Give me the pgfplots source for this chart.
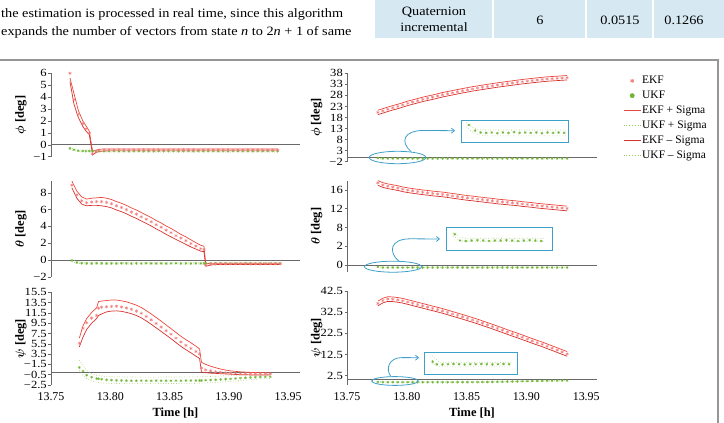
\documentclass[border=0pt]{standalone}
\usepackage{pgfplots}
\pgfplotsset{compat=1.18}
\usepackage{pgfplotstable}
\usepackage{fontspec}
\usepackage{bm}
\setmainfont{Liberation Serif}
\newfontfamily\widefont[FakeStretch=1.12]{Liberation Serif}
\newfontfamily\tickfont[FakeStretch=1.15]{Liberation Serif}
\usetikzlibrary{arrows.meta}

\definecolor{ekfpink}{RGB}{242,125,125}
\definecolor{ekfred}{RGB}{234,70,60}
\definecolor{ekfdark}{RGB}{214,48,42}
\definecolor{ukfgreen}{RGB}{112,182,52}
\definecolor{ukfline}{RGB}{150,200,90}
\definecolor{annblue}{RGB}{62,160,200}
\definecolor{axisgray}{RGB}{105,105,105}
\definecolor{cellblue}{RGB}{214,233,243}
\definecolor{framegray}{RGB}{150,150,150}

\newcommand\xtfont{\fontsize{12}{13}\selectfont}
\newcommand\ytfont{\tickfont\fontsize{11}{12}\selectfont}
\newcommand\labfont{\fontsize{12.5}{14}\selectfont\bfseries}
\newcommand\legfont{\fontsize{11.5}{13}\selectfont}
\newcommand\bodyfont{\widefont\fontsize{12.8}{15}\selectfont}

% phi, left column
\pgfplotstableread{
t ekf ep em ukf up um
13.7660 6.00 5.60 5.30 -0.30 -0.22 -0.38
13.7694 3.80 4.30 3.40 -0.42 -0.34 -0.50
13.7730 2.55 2.90 2.30 -0.50 -0.42 -0.58
13.7768 1.78 2.00 1.55 -0.52 -0.44 -0.60
13.7795 1.35 1.60 1.15 -0.53 -0.45 -0.61
13.7823 0.98 1.15 0.85 -0.52 -0.45 -0.61
13.7851 -0.76 -0.55 -0.85 -0.53 -0.45 -0.61
13.7880 -0.55 -0.45 -0.64 -0.54 -0.45 -0.61
13.7906 -0.47 -0.38 -0.56 -0.53 -0.45 -0.61
13.7948 -0.43 -0.35 -0.52 -0.54 -0.45 -0.61
13.7990 -0.42 -0.35 -0.51 -0.53 -0.45 -0.61
13.8031 -0.43 -0.35 -0.51 -0.52 -0.45 -0.61
13.8073 -0.41 -0.35 -0.51 -0.54 -0.45 -0.61
13.8115 -0.42 -0.35 -0.51 -0.53 -0.45 -0.61
13.8157 -0.44 -0.35 -0.51 -0.55 -0.45 -0.61
13.8199 -0.42 -0.35 -0.51 -0.53 -0.45 -0.61
13.8241 -0.43 -0.35 -0.51 -0.52 -0.45 -0.61
13.8282 -0.41 -0.35 -0.51 -0.54 -0.45 -0.61
13.8324 -0.42 -0.35 -0.51 -0.53 -0.45 -0.61
13.8366 -0.43 -0.35 -0.51 -0.54 -0.45 -0.61
13.8408 -0.42 -0.35 -0.51 -0.52 -0.45 -0.61
13.8450 -0.44 -0.35 -0.51 -0.53 -0.45 -0.61
13.8491 -0.42 -0.35 -0.51 -0.55 -0.45 -0.61
13.8533 -0.41 -0.35 -0.51 -0.53 -0.45 -0.61
13.8575 -0.43 -0.35 -0.51 -0.54 -0.45 -0.61
13.8617 -0.42 -0.35 -0.51 -0.53 -0.45 -0.61
13.8659 -0.43 -0.35 -0.51 -0.52 -0.45 -0.61
13.8701 -0.42 -0.35 -0.51 -0.54 -0.45 -0.61
13.8742 -0.44 -0.35 -0.51 -0.53 -0.45 -0.61
13.8784 -0.42 -0.35 -0.51 -0.54 -0.45 -0.61
13.8826 -0.41 -0.35 -0.51 -0.53 -0.45 -0.61
13.8868 -0.43 -0.35 -0.51 -0.52 -0.45 -0.61
13.8910 -0.42 -0.35 -0.51 -0.54 -0.45 -0.61
13.8952 -0.43 -0.35 -0.51 -0.53 -0.45 -0.61
13.8993 -0.42 -0.35 -0.51 -0.55 -0.45 -0.61
13.9035 -0.44 -0.35 -0.51 -0.53 -0.45 -0.61
13.9077 -0.42 -0.35 -0.51 -0.54 -0.45 -0.61
13.9119 -0.43 -0.35 -0.51 -0.53 -0.45 -0.61
13.9161 -0.41 -0.35 -0.51 -0.52 -0.45 -0.61
13.9202 -0.42 -0.35 -0.51 -0.54 -0.45 -0.61
13.9244 -0.43 -0.35 -0.51 -0.53 -0.45 -0.61
13.9286 -0.42 -0.35 -0.51 -0.54 -0.45 -0.61
13.9328 -0.44 -0.35 -0.51 -0.53 -0.45 -0.61
13.9370 -0.42 -0.35 -0.51 -0.52 -0.45 -0.61
13.9412 -0.43 -0.35 -0.51 -0.54 -0.45 -0.61
}\phiL

% theta, left column
\pgfplotstableread{
t ekf ep em ukf up um
13.7676 8.90 9.40 8.60 -0.05 0.05 -0.15
13.7718 7.75 8.20 7.35 -0.30 -0.20 -0.40
13.7759 7.05 7.50 6.65 -0.38 -0.30 -0.47
13.7801 6.82 7.25 6.45 -0.40 -0.32 -0.48
13.7843 6.90 7.35 6.50 -0.41 -0.33 -0.48
13.7885 6.95 7.40 6.50 -0.39 -0.33 -0.48
13.7927 6.95 7.45 6.45 -0.40 -0.33 -0.48
13.7969 6.85 7.35 6.35 -0.42 -0.33 -0.48
13.8010 6.70 7.20 6.20 -0.40 -0.33 -0.48
13.8052 6.45 6.95 5.95 -0.41 -0.33 -0.48
13.8094 6.25 6.75 5.75 -0.39 -0.33 -0.48
13.8136 6.00 6.50 5.50 -0.40 -0.33 -0.48
13.8178 5.70 6.20 5.20 -0.42 -0.33 -0.48
13.8220 5.45 5.95 4.95 -0.40 -0.33 -0.48
13.8261 5.15 5.65 4.65 -0.41 -0.33 -0.48
13.8303 4.85 5.35 4.35 -0.39 -0.33 -0.48
13.8345 4.55 5.05 4.05 -0.40 -0.33 -0.48
13.8387 4.20 4.70 3.70 -0.41 -0.33 -0.48
13.8429 3.90 4.40 3.40 -0.40 -0.33 -0.48
13.8471 3.55 4.05 3.05 -0.42 -0.33 -0.48
13.8512 3.25 3.75 2.75 -0.40 -0.33 -0.48
13.8554 2.90 3.40 2.45 -0.39 -0.33 -0.48
13.8596 2.60 3.05 2.15 -0.41 -0.33 -0.48
13.8638 2.30 2.75 1.85 -0.40 -0.33 -0.48
13.8680 1.95 2.40 1.55 -0.42 -0.33 -0.48
13.8722 1.65 2.05 1.30 -0.40 -0.33 -0.48
13.8763 1.35 1.75 1.05 -0.41 -0.33 -0.48
13.8790 1.25 1.65 1.00 -0.40 -0.33 -0.48
13.8805 -0.60 -0.45 -0.75 -0.40 -0.33 -0.48
13.8847 -0.50 -0.40 -0.60 -0.41 -0.33 -0.48
13.8889 -0.46 -0.38 -0.54 -0.39 -0.33 -0.48
13.8931 -0.44 -0.38 -0.54 -0.41 -0.33 -0.48
13.8973 -0.46 -0.38 -0.54 -0.40 -0.33 -0.48
13.9014 -0.45 -0.38 -0.54 -0.42 -0.33 -0.48
13.9056 -0.47 -0.38 -0.54 -0.40 -0.33 -0.48
13.9098 -0.45 -0.38 -0.54 -0.41 -0.33 -0.48
13.9140 -0.44 -0.38 -0.54 -0.39 -0.33 -0.48
13.9182 -0.46 -0.38 -0.54 -0.40 -0.33 -0.48
13.9224 -0.45 -0.38 -0.54 -0.42 -0.33 -0.48
13.9265 -0.46 -0.38 -0.54 -0.40 -0.33 -0.48
13.9307 -0.44 -0.38 -0.54 -0.41 -0.33 -0.48
13.9349 -0.45 -0.38 -0.54 -0.40 -0.33 -0.48
13.9391 -0.46 -0.38 -0.54 -0.41 -0.33 -0.48
13.9433 -0.45 -0.38 -0.54 -0.40 -0.33 -0.48
}\thetaL

% psi, left column
\pgfplotstableread{
t ekf ep em ukf up um
13.7739 5.60 6.60 4.90 0.90 2.30 0.30
13.7770 8.50 9.00 6.80 0.20 1.30 -0.60
13.7801 9.60 10.40 8.30 -0.60 0.30 -1.30
13.7843 10.50 11.60 9.50 -1.00 -0.30 -1.70
13.7885 11.00 12.50 10.40 -1.25 -0.60 -1.95
13.7901 12.40 13.70 11.00 -1.30 -0.65 -2.00
13.7927 12.60 13.80 11.30 -1.40 -0.75 -2.10
13.7969 12.70 13.90 11.70 -1.50 -0.85 -2.15
13.8010 12.75 14.00 11.85 -1.55 -0.90 -2.20
13.8052 12.80 14.00 11.90 -1.60 -0.92 -2.20
13.8094 12.65 13.85 11.80 -1.62 -0.93 -2.22
13.8136 12.45 13.65 11.60 -1.65 -0.95 -2.22
13.8178 12.20 13.35 11.35 -1.66 -0.95 -2.22
13.8220 11.85 13.00 11.00 -1.67 -0.96 -2.22
13.8261 11.40 12.55 10.55 -1.65 -0.96 -2.22
13.8303 10.80 11.95 9.95 -1.66 -0.96 -2.22
13.8345 10.15 11.30 9.30 -1.67 -0.96 -2.22
13.8387 9.45 10.60 8.60 -1.65 -0.96 -2.22
13.8429 8.75 9.90 7.90 -1.66 -0.96 -2.21
13.8471 8.05 9.15 7.20 -1.66 -0.95 -2.21
13.8512 7.35 8.45 6.50 -1.67 -0.95 -2.20
13.8554 6.60 7.70 5.75 -1.65 -0.94 -2.20
13.8596 5.85 6.95 5.00 -1.66 -0.94 -2.19
13.8638 5.20 6.30 4.35 -1.64 -0.93 -2.18
13.8680 4.60 5.70 3.75 -1.64 -0.92 -2.17
13.8722 4.00 5.05 3.10 -1.63 -0.91 -2.16
13.8753 3.55 4.50 2.65 -1.63 -0.90 -2.15
13.8769 0.80 1.90 0.00 -1.62 -0.90 -2.14
13.8805 0.45 1.50 -0.10 -1.58 -0.87 -2.10
13.8847 0.25 1.15 -0.20 -1.53 -0.84 -2.05
13.8889 0.05 0.85 -0.25 -1.48 -0.80 -2.00
13.8931 -0.05 0.60 -0.30 -1.42 -0.76 -1.94
13.8973 -0.15 0.40 -0.35 -1.36 -0.72 -1.87
13.9014 -0.20 0.25 -0.40 -1.30 -0.68 -1.80
13.9056 -0.25 0.15 -0.45 -1.23 -0.64 -1.72
13.9098 -0.28 0.05 -0.50 -1.16 -0.60 -1.64
13.9140 -0.30 0.00 -0.50 -1.10 -0.57 -1.56
13.9182 -0.32 -0.05 -0.55 -1.04 -0.54 -1.48
13.9224 -0.33 -0.08 -0.55 -0.98 -0.51 -1.40
13.9265 -0.34 -0.10 -0.55 -0.94 -0.49 -1.33
13.9307 -0.35 -0.10 -0.55 -0.91 -0.47 -1.27
13.9349 -0.35 -0.12 -0.55 -0.88 -0.45 -1.22
}\psiL

% phi, right column
\pgfplotstableread{
t ekf ep em ukf up um
13.7758 20.3 21.3 19.3 -0.33 -0.28 -0.40
13.7800 21.0 22.0 20.0 -0.53 -0.46 -0.62
13.7841 21.7 22.7 20.7 -0.54 -0.46 -0.62
13.7883 22.4 23.4 21.4 -0.52 -0.46 -0.62
13.7925 23.0 24.0 22.0 -0.53 -0.46 -0.62
13.7966 23.7 24.7 22.7 -0.55 -0.46 -0.62
13.8008 24.4 25.4 23.4 -0.53 -0.46 -0.62
13.8049 25.0 26.0 24.0 -0.52 -0.46 -0.62
13.8091 25.6 26.6 24.6 -0.54 -0.46 -0.62
13.8133 26.2 27.2 25.2 -0.53 -0.46 -0.62
13.8174 26.7 27.7 25.7 -0.53 -0.46 -0.62
13.8216 27.2 28.2 26.2 -0.54 -0.46 -0.62
13.8258 27.75 28.75 26.75 -0.52 -0.46 -0.62
13.8299 28.3 29.3 27.3 -0.53 -0.46 -0.62
13.8341 28.75 29.75 27.75 -0.55 -0.46 -0.62
13.8382 29.2 30.2 28.2 -0.53 -0.46 -0.62
13.8424 29.65 30.65 28.65 -0.52 -0.46 -0.62
13.8466 30.1 31.1 29.1 -0.54 -0.46 -0.62
13.8507 30.5 31.5 29.5 -0.53 -0.46 -0.62
13.8549 30.95 31.95 29.95 -0.53 -0.46 -0.62
13.8591 31.3 32.3 30.3 -0.54 -0.46 -0.62
13.8632 31.65 32.65 30.65 -0.52 -0.46 -0.62
13.8674 32.0 33.0 31.0 -0.53 -0.46 -0.62
13.8715 32.35 33.35 31.35 -0.55 -0.46 -0.62
13.8757 32.7 33.7 31.7 -0.53 -0.46 -0.62
13.8799 33.0 34.0 32.0 -0.52 -0.46 -0.62
13.8840 33.3 34.3 32.3 -0.54 -0.46 -0.62
13.8882 33.6 34.6 32.6 -0.53 -0.46 -0.62
13.8924 33.9 34.9 32.9 -0.53 -0.46 -0.62
13.8965 34.2 35.2 33.2 -0.54 -0.46 -0.62
13.9007 34.45 35.45 33.45 -0.52 -0.46 -0.62
13.9048 34.7 35.7 33.7 -0.53 -0.46 -0.62
13.9090 34.95 35.95 33.95 -0.55 -0.46 -0.62
13.9132 35.2 36.2 34.2 -0.53 -0.46 -0.62
13.9173 35.4 36.4 34.4 -0.52 -0.46 -0.62
13.9215 35.55 36.55 34.55 -0.54 -0.46 -0.62
13.9257 35.7 36.7 34.7 -0.53 -0.46 -0.62
13.9298 35.85 36.85 34.85 -0.53 -0.46 -0.62
13.9340 36.0 37.0 35.0 -0.54 -0.46 -0.62
}\phiR

% theta, right column
\pgfplotstableread{
t ekf ep em ukf up um
13.7758 17.5 18.0 17.0 -0.385 -0.36 -0.44
13.7800 17.05 17.55 16.55 -0.55 -0.49 -0.58
13.7841 16.8 17.3 16.3 -0.56 -0.49 -0.58
13.7883 16.6 17.1 16.1 -0.54 -0.49 -0.58
13.7925 16.4 16.9 15.9 -0.55 -0.49 -0.58
13.7966 16.15 16.65 15.65 -0.56 -0.49 -0.58
13.8008 15.95 16.45 15.45 -0.55 -0.49 -0.58
13.8049 15.8 16.3 15.3 -0.54 -0.49 -0.58
13.8091 15.65 16.15 15.15 -0.55 -0.49 -0.58
13.8133 15.5 16.0 15.0 -0.56 -0.49 -0.58
13.8174 15.4 15.9 14.9 -0.55 -0.49 -0.58
13.8216 15.25 15.75 14.75 -0.55 -0.49 -0.58
13.8258 15.15 15.65 14.65 -0.54 -0.49 -0.58
13.8299 15.05 15.55 14.55 -0.56 -0.49 -0.58
13.8341 14.9 15.4 14.4 -0.55 -0.49 -0.58
13.8382 14.75 15.25 14.25 -0.55 -0.49 -0.58
13.8424 14.6 15.1 14.1 -0.54 -0.49 -0.58
13.8466 14.45 14.95 13.95 -0.55 -0.49 -0.58
13.8507 14.3 14.8 13.8 -0.56 -0.49 -0.58
13.8549 14.2 14.7 13.7 -0.55 -0.49 -0.58
13.8591 14.05 14.55 13.55 -0.54 -0.49 -0.58
13.8632 13.95 14.45 13.45 -0.55 -0.49 -0.58
13.8674 13.8 14.3 13.3 -0.56 -0.49 -0.58
13.8715 13.7 14.2 13.2 -0.55 -0.49 -0.58
13.8757 13.55 14.05 13.05 -0.55 -0.49 -0.58
13.8799 13.45 13.95 12.95 -0.54 -0.49 -0.58
13.8840 13.35 13.85 12.85 -0.55 -0.49 -0.58
13.8882 13.25 13.75 12.75 -0.56 -0.49 -0.58
13.8924 13.15 13.65 12.65 -0.55 -0.49 -0.58
13.8965 13.0 13.5 12.5 -0.54 -0.49 -0.58
13.9007 12.9 13.4 12.4 -0.55 -0.49 -0.58
13.9048 12.8 13.3 12.3 -0.55 -0.49 -0.58
13.9090 12.65 13.15 12.15 -0.56 -0.49 -0.58
13.9132 12.55 13.05 12.05 -0.55 -0.49 -0.58
13.9173 12.45 12.95 11.95 -0.54 -0.49 -0.58
13.9215 12.35 12.85 11.85 -0.55 -0.49 -0.58
13.9257 12.25 12.75 11.75 -0.55 -0.49 -0.58
13.9298 12.15 12.65 11.65 -0.56 -0.49 -0.58
13.9340 12.05 12.55 11.55 -0.55 -0.49 -0.58
}\thetaR

% psi, right column
\pgfplotstableread{
t ekf ep em ukf up um
13.7758 36.6 37.7 35.5 -0.43 -0.16 -0.50
13.7800 38.0 39.1 36.9 -0.55 -0.46 -0.67
13.7841 38.7 39.8 37.6 -0.56 -0.46 -0.67
13.7883 38.6 39.7 37.5 -0.54 -0.46 -0.67
13.7925 38.3 39.4 37.2 -0.55 -0.46 -0.67
13.7966 37.9 39.0 36.8 -0.56 -0.46 -0.67
13.8008 37.3 38.4 36.2 -0.55 -0.46 -0.67
13.8049 36.7 37.8 35.6 -0.54 -0.46 -0.67
13.8091 36.1 37.2 35.0 -0.55 -0.46 -0.67
13.8133 35.5 36.6 34.4 -0.56 -0.46 -0.67
13.8174 34.9 36.0 33.8 -0.55 -0.46 -0.67
13.8216 34.3 35.4 33.2 -0.55 -0.46 -0.67
13.8258 33.7 34.8 32.6 -0.54 -0.46 -0.67
13.8299 33.1 34.2 32.0 -0.55 -0.46 -0.67
13.8341 32.4 33.5 31.3 -0.56 -0.46 -0.67
13.8382 31.7 32.8 30.6 -0.55 -0.46 -0.67
13.8424 31.0 32.1 29.9 -0.54 -0.45 -0.66
13.8466 30.3 31.4 29.2 -0.55 -0.45 -0.66
13.8507 29.6 30.7 28.5 -0.54 -0.45 -0.66
13.8549 28.85 29.95 27.75 -0.54 -0.45 -0.66
13.8591 28.1 29.2 27.0 -0.52 -0.43 -0.64
13.8632 27.3 28.4 26.2 -0.49 -0.40 -0.61
13.8674 26.5 27.6 25.4 -0.45 -0.36 -0.57
13.8715 25.7 26.8 24.6 -0.41 -0.32 -0.53
13.8757 24.85 25.95 23.75 -0.37 -0.28 -0.49
13.8799 24.0 25.1 22.9 -0.33 -0.24 -0.45
13.8840 23.15 24.25 22.05 -0.28 -0.19 -0.40
13.8882 22.3 23.4 21.2 -0.24 -0.15 -0.36
13.8924 21.5 22.6 20.4 -0.19 -0.10 -0.31
13.8965 20.65 21.75 19.55 -0.14 -0.05 -0.26
13.9007 19.8 20.9 18.7 -0.09 0.00 -0.21
13.9048 18.95 20.05 17.85 -0.04 0.05 -0.16
13.9090 18.1 19.2 17.0 0.01 0.10 -0.11
13.9132 17.3 18.4 16.2 0.06 0.15 -0.06
13.9173 16.4 17.5 15.3 0.10 0.19 -0.02
13.9215 15.5 16.6 14.4 0.14 0.23 0.02
13.9257 14.6 15.7 13.5 0.18 0.27 0.06
13.9298 13.7 14.8 12.6 0.22 0.31 0.10
13.9340 12.8 13.9 11.7 0.25 0.34 0.13
}\psiR

\pgfplotsset{
  panel/.style={
    scale only axis, anchor=south west, clip=false,
    xmin=13.75,
    axis x line*=bottom, axis y line*=left,
    x axis line style={draw=none},
    y axis line style={axisgray, line width=0.6bp},
    xtick={13.75,13.8,13.85,13.9,13.95},
    xticklabels={},
    xtick style={draw=none},
    ytick style={axisgray, line width=0.5bp},
    tick align=outside, major tick length=2.5bp,
    xticklabel style={font=\xtfont, inner sep=1bp, yshift=-4bp},
    yticklabel style={font=\ytfont, inner sep=1.5bp},
    ylabel style={at={(axis description cs:-0.121,0.5)}, anchor=center, font=\labfont},
    xlabel style={at={(axis description cs:0.5,0)}, anchor=center, yshift=-28bp, font=\labfont},
  },
  leftcol/.style={panel, xmax=13.96, width=249bp},
  rightcol/.style={panel, xmax=13.959, width=250bp},
  bottompanel/.style={
    xticklabels={13.75,13.80,13.85,13.90,13.95},
    xlabel={Time [h]},
  },
  inset/.style={
    scale only axis, anchor=south west, clip=false,
    axis line style={annblue, line width=0.8bp},
    xtick=\empty, ytick=\empty,
  },
  ekfm/.style={forget plot, only marks, mark=asterisk, mark size=1.7bp, ekfpink, mark options={line width=0.45bp}},
  ukfm/.style={forget plot, only marks, mark=asterisk, mark size=1.4bp, ukfgreen, mark options={line width=0.45bp}},
  ekfp/.style={forget plot, ekfred, line width=0.7bp, no marks},
  ekfn/.style={forget plot, ekfdark, line width=0.7bp, no marks},
  ukfl/.style={forget plot, ukfline, line width=0.6bp, dotted, no marks},
  zline/.style={forget plot, axisgray, line width=0.6bp, no marks},
}

% bands first, then the estimates on top
\newcommand{\series}[1]{%
  \addplot[ukfl] table[x=t,y=up]{#1};
  \addplot[ukfl] table[x=t,y=um]{#1};
  \addplot[ekfp] table[x=t,y=ep]{#1};
  \addplot[ekfn] table[x=t,y=em]{#1};
  \addplot[ukfm] table[x=t,y=ukf]{#1};
  \addplot[ekfm] table[x=t,y=ekf]{#1};
}

\begin{document}
\begin{tikzpicture}
\useasboundingbox (0,0) rectangle (724bp,-423bp);

\begin{scope}[x=1bp,y=-1bp]
  % running text of the page
  \node[anchor=base west, inner sep=0] at (1,17.5) {\bodyfont the estimation is processed in real time, since this algorithm};
  \node[anchor=base west, inner sep=0] at (1,35.5) {\bodyfont expands the number of vectors from state \textit{n} to 2\textit{n} + 1 of same};
  % last row of the results table
  \fill[cellblue] (375,0) rectangle (724,38);
  \foreach \sx in {493,586,653} \draw[white, line width=1.5bp] (\sx,0) -- (\sx,38);
  \node[anchor=base, inner sep=0] at (434,15.5) {\bodyfont Quaternion};
  \node[anchor=base, inner sep=0] at (434,31.5) {\bodyfont incremental};
  \node[anchor=base, inner sep=0] at (540,24) {\bodyfont 6};
  \node[anchor=base, inner sep=0] at (620,24) {\bodyfont 0.0515};
  \node[anchor=base, inner sep=0] at (684,24) {\bodyfont 0.1266};
  % figure frame
  \draw[framegray, line width=1.2bp] (0,60) -- (718,60) -- (718,424);
\end{scope}

% ---------- left column ----------
\begin{axis}[leftcol, at={(51bp,-156.7bp)}, height=83.4bp,
  ymin=-1, ymax=6, ytick={-1,0,1,2,3,4,5,6},
  yticklabels={−1,0,1,2,3,4,5,6},
  ylabel={$\bm{\phi}$ [deg]}]
  \addplot[zline] coordinates {(13.75,0) (13.96,0)};
  \series{\phiL}
\end{axis}

\begin{axis}[leftcol, at={(51bp,-276.8bp)}, height=95.8bp,
  ymin=-2, ymax=9.4, ytick={-2,0,2,4,6,8},
  yticklabels={−2,0,2,4,6,8},
  ylabel={$\bm{\theta}$ [deg]}]
  \addplot[zline] coordinates {(13.75,0) (13.96,0)};
  \series{\thetaL}
\end{axis}

\begin{axis}[leftcol, bottompanel, at={(51bp,-385bp)}, height=92.7bp,
  ymin=-2.5, ymax=15.5,
  ytick={-2.5,-0.5,1.5,3.5,5.5,7.5,9.5,11.5,13.5,15.5},
  yticklabels={−2.5,−0.5,−1.5,3.5,5.5,7.5,9.5,11.5,13.5,15.5},
  ylabel={$\bm{\psi}$ [deg]}]
  \addplot[zline] coordinates {(13.75,0) (13.96,0)};
  \series{\psiL}
\end{axis}

% ---------- right column ----------
\begin{axis}[rightcol, at={(347bp,-161.7bp)}, height=88.4bp,
  ymin=-2, ymax=38, ytick={-2,3,8,13,18,23,28,33,38},
  yticklabels={−2,3,8,13,18,23,28,33,38},
  ylabel={$\bm{\phi}$ [deg]},
  legend style={draw=none, fill=none, at={(axis description cs:1.104,0.98)},
    anchor=north west, font=\legfont, row sep=3.9bp, inner sep=0pt,
    nodes={inner sep=1bp}},
  legend cell align=left]
  \addplot[zline] coordinates {(13.75,0) (13.959,0)};
  \series{\phiR}
  \addlegendimage{legend image code/.code={\draw[ekfpink, line width=0.9bp] plot[mark=asterisk, mark size=2bp] coordinates {(0.3cm,0cm)};}}
  \addlegendentry{EKF}
  \addlegendimage{legend image code/.code={\fill[ukfgreen] (0.3cm,0cm) circle (2.2bp);}}
  \addlegendentry{UKF}
  \addlegendimage{legend image code/.code={\draw[ekfred, line width=1bp] (0cm,0cm) -- (0.6cm,0cm);}}
  \addlegendentry{EKF + Sigma}
  \addlegendimage{legend image code/.code={\draw[ukfline, line width=0.8bp, dotted] (0cm,0cm) -- (0.6cm,0cm);}}
  \addlegendentry{UKF + Sigma}
  \addlegendimage{legend image code/.code={\draw[ekfdark, line width=1bp] (0cm,0cm) -- (0.6cm,0cm);}}
  \addlegendentry{EKF -- Sigma}
  \addlegendimage{legend image code/.code={\draw[ukfline, line width=0.8bp, dotted] (0cm,0cm) -- (0.6cm,0cm);}}
  \addlegendentry{UKF -- Sigma}
\end{axis}

\begin{axis}[rightcol, at={(347bp,-272bp)}, height=91.4bp,
  ymin=-1.5, ymax=18, ytick={0,4,8,12,16},
  yticklabels={0,2,8,12,16},
  ylabel={$\bm{\theta}$ [deg]}]
  \addplot[zline] coordinates {(13.75,0) (13.959,0)};
  \series{\thetaR}
\end{axis}

\begin{axis}[rightcol, bottompanel, at={(347bp,-384.6bp)}, height=93.6bp,
  ymin=-1.7, ymax=42.5, ytick={2.5,12.5,22.5,32.5,42.5},
  yticklabels={2.5,12.5,22.5,32.5,42.5},
  ylabel={$\bm{\psi}$ [deg]}]
  \addplot[zline] coordinates {(13.75,1) (13.959,1)};
  \series{\psiR}
\end{axis}

% ---------- magnified views of the first UKF samples ----------
\begin{axis}[inset, at={(461.7bp,-142.7bp)}, width=106.6bp, height=22.7bp,
  xmin=13.768, xmax=13.812, ymin=-0.8, ymax=-0.2]
  \addplot[ukfl] coordinates {(13.770,-0.27) (13.7725,-0.40) (13.775,-0.45) (13.778,-0.465) (13.811,-0.465)};
  \addplot[ukfl] coordinates {(13.770,-0.38) (13.7725,-0.52) (13.775,-0.59) (13.778,-0.62) (13.811,-0.62)};
  \addplot[ukfm] coordinates {(13.771,-0.33) (13.7735,-0.48) (13.7758,-0.53) (13.7781,-0.54) (13.7804,-0.53)
    (13.7827,-0.55) (13.7850,-0.53) (13.7873,-0.54) (13.7896,-0.52) (13.7919,-0.54) (13.7942,-0.53)
    (13.7965,-0.54) (13.7988,-0.53) (13.8011,-0.55) (13.8034,-0.53) (13.8057,-0.54) (13.8080,-0.53) (13.8103,-0.54)};
\end{axis}

\begin{axis}[inset, at={(446bp,-250bp)}, width=106.3bp, height=22.7bp,
  xmin=13.768, xmax=13.812, ymin=-0.8, ymax=-0.2]
  \addplot[ukfl] coordinates {(13.7710,-0.35) (13.7738,-0.46) (13.776,-0.49) (13.809,-0.49)};
  \addplot[ukfl] coordinates {(13.7710,-0.43) (13.7738,-0.55) (13.776,-0.58) (13.809,-0.58)};
  \addplot[ukfm] coordinates {(13.7717,-0.385) (13.7738,-0.55) (13.7762,-0.56) (13.7786,-0.55) (13.7810,-0.54)
    (13.7834,-0.55) (13.7858,-0.56) (13.7882,-0.55) (13.7906,-0.55) (13.7930,-0.54) (13.7954,-0.55)
    (13.7978,-0.56) (13.8002,-0.55) (13.8026,-0.54) (13.8050,-0.55) (13.8074,-0.56)};
\end{axis}

\begin{axis}[inset, at={(424bp,-374bp)}, width=93.3bp, height=21.7bp,
  xmin=13.768, xmax=13.810, ymin=-1, ymax=0]
  \addplot[ukfl] coordinates {(13.7719,-0.16) (13.7735,-0.33) (13.7752,-0.46) (13.8075,-0.46)};
  \addplot[ukfl] coordinates {(13.7719,-0.50) (13.7738,-0.62) (13.7752,-0.67) (13.8075,-0.67)};
  \addplot[ukfm] coordinates {(13.7719,-0.43) (13.7738,-0.55) (13.7763,-0.56) (13.7788,-0.55) (13.7813,-0.54)
    (13.7838,-0.55) (13.7863,-0.56) (13.7888,-0.55) (13.7913,-0.55) (13.7938,-0.54) (13.7963,-0.55)
    (13.7988,-0.56) (13.8013,-0.55) (13.8038,-0.54) (13.8063,-0.55)};
\end{axis}

% callouts linking each magnified view to its region
\begin{scope}[x=1bp,y=-1bp, annblue, line width=0.8bp]
  \draw (397.5,157.5) ellipse (28.3 and 6.2);
  \draw[-{Straight Barb[length=3bp,width=5bp]}] (411,151.5) .. controls (400,142) and (403,130) .. (425,130.5) -- (455,130.7);
  \draw (393,266.7) ellipse (28.5 and 5.5);
  \draw[-{Straight Barb[length=3bp,width=5bp]}] (399,261.3) .. controls (388,252) and (390,239) .. (410,238.8) -- (440,239);
  \draw (395,381) ellipse (23.3 and 4.4);
  \draw[-{Straight Barb[length=3bp,width=5bp]}] (391,376.6) .. controls (385,369) and (389,357.5) .. (402,357.6) -- (419,357.7);
\end{scope}
\end{tikzpicture}
\end{document}
